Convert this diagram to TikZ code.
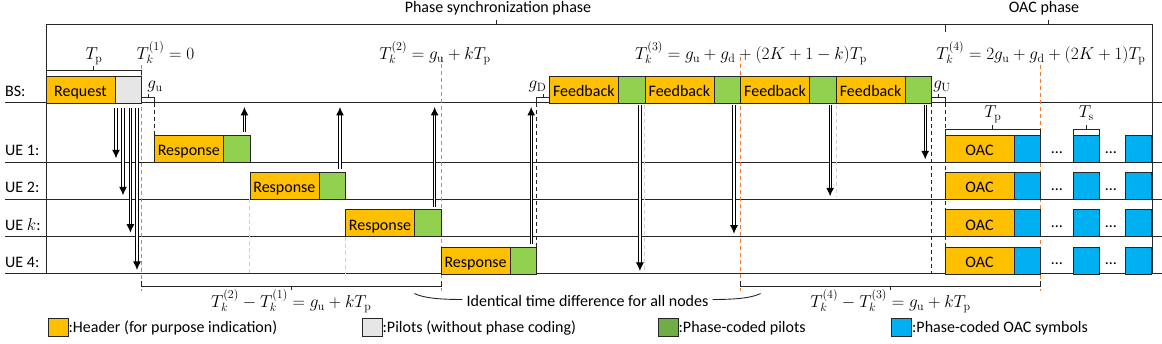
\documentclass[tikz,border=0pt]{standalone}
\usepackage[no-math]{fontspec}
\setmainfont{Carlito}
\usetikzlibrary{arrows.meta,calc}
\definecolor{hdr}{HTML}{FFC000}
\definecolor{pilc}{HTML}{E7E6E6}
\definecolor{pcp}{HTML}{92D050}
\definecolor{pcpleg}{HTML}{70AD47}
\definecolor{oacc}{HTML}{00B0F0}
\definecolor{orgc}{HTML}{ED7D31}
\definecolor{lnc}{HTML}{262626}
\definecolor{gdc}{HTML}{D0D0D0}
\begin{document}
\begin{tikzpicture}[x=1pt,y=-1pt,
  txt/.style={font=\fontsize{16}{19}\selectfont, inner sep=0pt},
  mth/.style={font=\fontsize{17}{20}\selectfont, inner sep=0pt},
  blk/.style={draw=lnc, line width=0.8pt, minimum height=27pt, inner sep=0pt, outer sep=0pt,
    anchor=south west, text height=14.4pt, text depth=0pt, font=\fontsize{16}{19}\selectfont},
  hbox/.style={blk, fill=hdr, minimum width=69pt},
  pbox/.style={blk, fill=pilc, minimum width=26.6pt},
  gbox/.style={blk, fill=pcp, minimum width=26.6pt},
  bbox/.style={blk, fill=oacc, minimum width=26.6pt},
  legbox/.style={draw=lnc, line width=0.8pt, minimum width=20pt, minimum height=18pt, inner sep=0pt, outer sep=0pt},
  rowline/.style={draw=lnc, line width=1pt},
  brk/.style={draw=lnc, line width=0.9pt},
  bdash/.style={draw=lnc, line width=1pt, dash pattern=on 4pt off 3pt},
  odash/.style={draw=orgc, line width=1pt, dash pattern=on 4pt off 3pt},
  gdash/.style={draw=gdc, line width=1pt, dash pattern=on 4pt off 3pt},
  darr/.style={draw=black, double=white, double distance=1.2pt, line width=1pt, -{Latex[length=8.5pt,width=8pt]}},
]
\useasboundingbox (0,0) rectangle (1162,344);

% row lines
\foreach \n/\y in {bs/103, u1/162.3, u2/199.3, uk/236.7, u4/274}{
  \coordinate (l\n) at (5,\y);
  \coordinate (r\n) at (1162,\y);
  \draw[rowline] (l\n) -- (r\n);
}

% top phase brace
\draw[rowline] (46,274) -- (46,25) -- (1152,25) -- (1152,274);
\draw[rowline] (945,25) -- (945,32);
\draw[rowline] (496,25) -- (496,20.5);
\draw[rowline] (1048,25) -- (1048,20.5);
\node[txt, anchor=base] at (498,13) {Phase synchronization phase};
\node[txt, anchor=base] at (1044,13) {OAC phase};

% row labels
\node[txt, anchor=base west] at (5,96.7) {BS:};
\node[txt, anchor=base west] at (5,156) {UE 1:};
\node[txt, anchor=base west] at (5,193) {UE 2:};
\node[txt, anchor=base west] at (5,230.4) {UE $k$:};
\node[txt, anchor=base west] at (5,267.7) {UE 4:};

% black dashed guides
\draw[bdash] (154.3,103) -- (154.3,135.3);
\draw[bdash] (536.7,103) -- (536.7,247);
\draw[bdash] (931.7,103) -- (931.7,274);
\draw[bdash] (945,103) -- (945,274);
% grey dashed guides
\draw[gdash] (249.9,199.3) -- (249.9,274);
\draw[gdash] (345.5,236.7) -- (345.5,274);
\draw[gdash] (644.9,105) -- (644.9,272);
\draw[gdash] (836.1,105) -- (836.1,197);
% orange dashed time marks
\draw[odash] (141.6,65) -- (141.6,291);
\draw[odash] (441.1,57) -- (441.1,291);
\draw[odash] (740.5,57) -- (740.5,291);
\draw[odash] (1040.6,65) -- (1040.6,291);

% BS boxes
\node[hbox] (req) at (46,103) {Request};
\node[pbox] (rpil) at (req.south east) {};
\node[hbox] (f1h) at (549.3,103) {Feedback};
\node[gbox] (f1g) at (f1h.south east) {};
\node[hbox] (f2h) at (f1g.south east) {Feedback};
\node[gbox] (f2g) at (f2h.south east) {};
\node[hbox] (f3h) at (f2g.south east) {Feedback};
\node[gbox] (f3g) at (f3h.south east) {};
\node[hbox] (f4h) at (f3g.south east) {Feedback};
\node[gbox] (f4g) at (f4h.south east) {};

% responses
\node[hbox] (r1h) at (154.3,162.3) {Response};
\node[gbox] (r1g) at (r1h.south east) {};
\node[hbox] (r2h) at (249.9,199.3) {Response};
\node[gbox] (r2g) at (r2h.south east) {};
\node[hbox] (rkh) at (345.5,236.7) {Response};
\node[gbox] (rkg) at (rkh.south east) {};
\node[hbox] (r4h) at (441.1,274) {Response};
\node[gbox] (r4g) at (r4h.south east) {};

% OAC rows
\foreach \r/\y in {1/162.3,2/199.3,3/236.7,4/274}{
  \node[hbox] (oh\r) at (945,\y) {OAC};
  \node[bbox] (ob\r) at (oh\r.south east) {};
  \node[bbox, minimum width=26pt] (os\r) at (1073.3,\y) {};
  \node[bbox, minimum width=26pt] (oe\r) at (1125.7,\y) {};
  \node[txt, anchor=base] at (1057,\y-9) {…};
  \node[txt, anchor=base] at (1111,\y-9) {…};
}

% brackets
\draw[brk] (46,75.5) -- (46,70.3) -- (141.6,70.3) -- (141.6,75.5);
\draw[brk] (93.8,70.3) -- (93.8,66);
\draw[brk] (141.6,103) -- (141.6,97.7) -- (154.3,97.7) -- (154.3,103);
\draw[brk] (148,97.7) -- (148,94.5);
\draw[brk] (536.7,103) -- (536.7,97.7) -- (549.3,97.7) -- (549.3,103);
\draw[brk] (543,97.7) -- (543,94.5);
\draw[brk] (931.7,103) -- (931.7,97.7) -- (945,97.7) -- (945,103);
\draw[brk] (938.3,97.7) -- (938.3,94.5);
\draw[brk] (945,135.3) -- (945,129.5) -- (1040.6,129.5) -- (1040.6,135.3);
\draw[brk] (992.8,129.5) -- (992.8,125);
\draw[brk] (1073.3,135.3) -- (1073.3,129.5) -- (1099.3,129.5) -- (1099.3,135.3);
\draw[brk] (1086.3,129.5) -- (1086.3,125);
\draw[brk] (141.6,281) -- (141.6,286) -- (441.1,286) -- (441.1,281);
\draw[brk] (291.3,286) -- (291.3,290);
\draw[brk] (740.5,281) -- (740.5,286) -- (1040.6,286) -- (1040.6,281);
\draw[brk] (890.5,286) -- (890.5,290);

% math labels
\node[mth, anchor=base] at (94,59.5) {$T_{\mathrm{p}}$};
\node[mth, anchor=base] at (165.5,59.5) {$T_k^{(1)}=0$};
\node[mth, anchor=base] at (435,59.5) {$T_k^{(2)}=g_{\mathrm{u}}+kT_{\mathrm{p}}$};
\node[mth, anchor=base] at (751,59.5) {$T_k^{(3)}=g_{\mathrm{u}}+g_{\mathrm{d}}+(2K+1-k)T_{\mathrm{p}}$};
\node[mth, anchor=base] at (1041,59.5) {$T_k^{(4)}=2g_{\mathrm{u}}+g_{\mathrm{d}}+(2K+1)T_{\mathrm{p}}$};
\node[mth, anchor=base] at (155,89) {$g_{\mathrm{u}}$};
\node[mth, anchor=base] at (537.5,89) {$g_{\mathrm{D}}$};
\node[mth, anchor=base] at (942,89) {$g_{\mathrm{U}}$};
\node[mth, anchor=base] at (992.8,118) {$T_{\mathrm{p}}$};
\node[mth, anchor=base] at (1086.3,118) {$T_{\mathrm{s}}$};
\node[mth, anchor=base] at (291.3,307.5) {$T_k^{(2)}-T_k^{(1)}=g_{\mathrm{u}}+kT_{\mathrm{p}}$};
\node[mth, anchor=base] at (890.5,307.5) {$T_k^{(4)}-T_k^{(3)}=g_{\mathrm{u}}+kT_{\mathrm{p}}$};

% identical time note
\node[txt, anchor=base] (ident) at (587.5,307) {Identical time difference for all nodes};
\draw[brk] ($(ident.west)+(-4,-2)$) .. controls ($(ident.west)+(-30,-2)$) and ($(ident.west)+(-44,-4)$) .. ($(ident.west)+(-52,-8)$);
\draw[brk] ($(ident.east)+(4,-2)$) .. controls ($(ident.east)+(30,-2)$) and ($(ident.east)+(44,-4)$) .. ($(ident.east)+(52,-8)$);

% arrows: BS pilots to UEs
\draw[darr] ($(rpil.south west)+(1,5)$) -- ($(rpil.south west |- lu1)+(1,-4)$);
\draw[darr] ($(rpil.south west)+(8,5)$) -- ($(rpil.south west |- lu2)+(8,-4)$);
\draw[darr] ($(rpil.south west)+(15.4,5)$) -- ($(rpil.south west |- luk)+(15.4,-4)$);
\draw[darr] ($(rpil.south west)+(22,5)$) -- ($(rpil.south west |- lu4)+(22,-4)$);
% arrows: responses to BS
\draw[darr] ($(r1g.north east)+(-5.5,-3)$) -- ($(r1g.north east |- lbs)+(-5.5,4)$);
\draw[darr] ($(r2g.north east)+(-5.5,-3)$) -- ($(r2g.north east |- lbs)+(-5.5,4)$);
\draw[darr] ($(rkg.north east)+(-6.5,-3)$) -- ($(rkg.north east |- lbs)+(-6.5,4)$);
\draw[darr] ($(r4g.north east)+(-5.5,-3)$) -- ($(r4g.north east |- lbs)+(-5.5,4)$);
% arrows: feedback to UEs
\draw[darr] ($(f1g.south east)+(-5,2)$) -- ($(f1g.south east |- lu4)+(-5,-3)$);
\draw[darr] ($(f2g.south east)+(-6.5,2)$) -- ($(f2g.south east |- luk)+(-6.5,-3)$);
\draw[darr] ($(f3g.south east)+(-6,2)$) -- ($(f3g.south east |- lu2)+(-6,-3)$);
\draw[darr] ($(f4g.south east)+(-6.5,2)$) -- ($(f4g.south east |- lu1)+(-6.5,-3)$);

% legend
\node[legbox, fill=hdr, anchor=south west] (lg1) at (48,336.5) {};
\node[txt, anchor=base west] at ($(lg1.south east)+(0.5,-3.5)$) {:Header (for purpose indication)};
\node[legbox, fill=pilc, anchor=south west] (lg2) at (362,336.5) {};
\node[txt, anchor=base west] at ($(lg2.south east)+(0.5,-3.5)$) {:Pilots (without phase coding)};
\node[legbox, fill=pcpleg, anchor=south west] (lg3) at (658,336.5) {};
\node[txt, anchor=base west] at ($(lg3.south east)+(0.5,-3.5)$) {:Phase-coded pilots};
\node[legbox, fill=oacc, anchor=south west] (lg4) at (891.5,336.5) {};
\node[txt, anchor=base west] at ($(lg4.south east)+(0.5,-3.5)$) {:Phase-coded OAC symbols};
\end{tikzpicture}
\end{document}
